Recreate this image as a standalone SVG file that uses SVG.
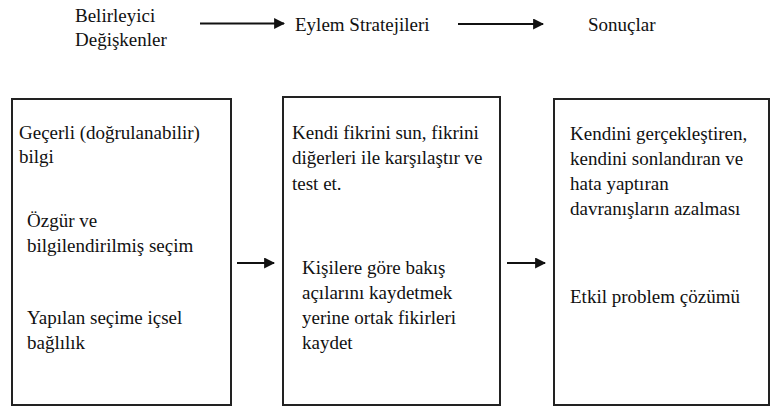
<svg xmlns="http://www.w3.org/2000/svg" width="770" height="409" viewBox="0 0 770 409">
  <style>
    .t { font-family: "Liberation Serif", "Times New Roman", serif; font-size: 19px; fill: #111; }
    .box { fill: #fff; stroke: #222; stroke-width: 2; }
    .arr { stroke: #111; stroke-width: 2.2; fill: none; marker-end: url(#head); }
  </style>
  <defs>
    <marker id="head" viewBox="0 0 10 10" refX="9" refY="5" markerWidth="5" markerHeight="5" orient="auto" markerUnits="strokeWidth">
      <path d="M0,0 L10,5 L0,10 Z" fill="#111"/>
    </marker>
  </defs>
  <rect width="770" height="409" fill="#fff"/>

  <!-- header row -->
  <g id="header-determinants">
    <text class="t" x="75" y="22">Belirleyici</text>
    <text class="t" x="75" y="46">Değişkenler</text>
  </g>
  <g id="header-strategies">
    <text class="t" x="295" y="31">Eylem Stratejileri</text>
  </g>
  <g id="header-outcomes">
    <text class="t" x="588" y="31">Sonuçlar</text>
  </g>

  <!-- columns -->
  <g id="determinants">
    <rect class="box" x="12" y="99" width="219" height="306"/>
    <text class="t" x="19" y="139">Geçerli (doğrulanabilir)</text>
    <text class="t" x="19" y="163">bilgi</text>
    <text class="t" x="27" y="227">Özgür ve</text>
    <text class="t" x="27" y="252">bilgilendirilmiş seçim</text>
    <text class="t" x="27" y="324">Yapılan seçime içsel</text>
    <text class="t" x="27" y="349">bağlılık</text>
  </g>
  <g id="strategies">
    <rect class="box" x="283" y="97" width="217" height="308"/>
    <text class="t" x="292" y="139">Kendi fikrini sun, fikrini</text>
    <text class="t" x="292" y="164">diğerleri ile karşılaştır ve</text>
    <text class="t" x="292" y="190">test et.</text>
    <text class="t" x="302" y="274">Kişilere göre bakış</text>
    <text class="t" x="302" y="299">açılarını kaydetmek</text>
    <text class="t" x="302" y="324">yerine ortak fikirleri</text>
    <text class="t" x="302" y="349">kaydet</text>
  </g>
  <g id="outcomes">
    <rect class="box" x="554" y="99" width="215" height="306"/>
    <text class="t" x="570" y="140">Kendini gerçekleştiren,</text>
    <text class="t" x="570" y="165">kendini sonlandıran ve</text>
    <text class="t" x="570" y="190">hata yaptıran</text>
    <text class="t" x="570" y="215">davranışların azalması</text>
    <text class="t" x="570" y="303">Etkil problem çözümü</text>
  </g>

  <g id="connectors">
    <line class="arr" x1="200" y1="23.5" x2="284" y2="23.5"/>
    <line class="arr" x1="458" y1="24" x2="543" y2="24"/>
    <line class="arr" x1="237" y1="263" x2="274" y2="263"/>
    <line class="arr" x1="507" y1="263" x2="545" y2="263"/>
  </g>
</svg>
